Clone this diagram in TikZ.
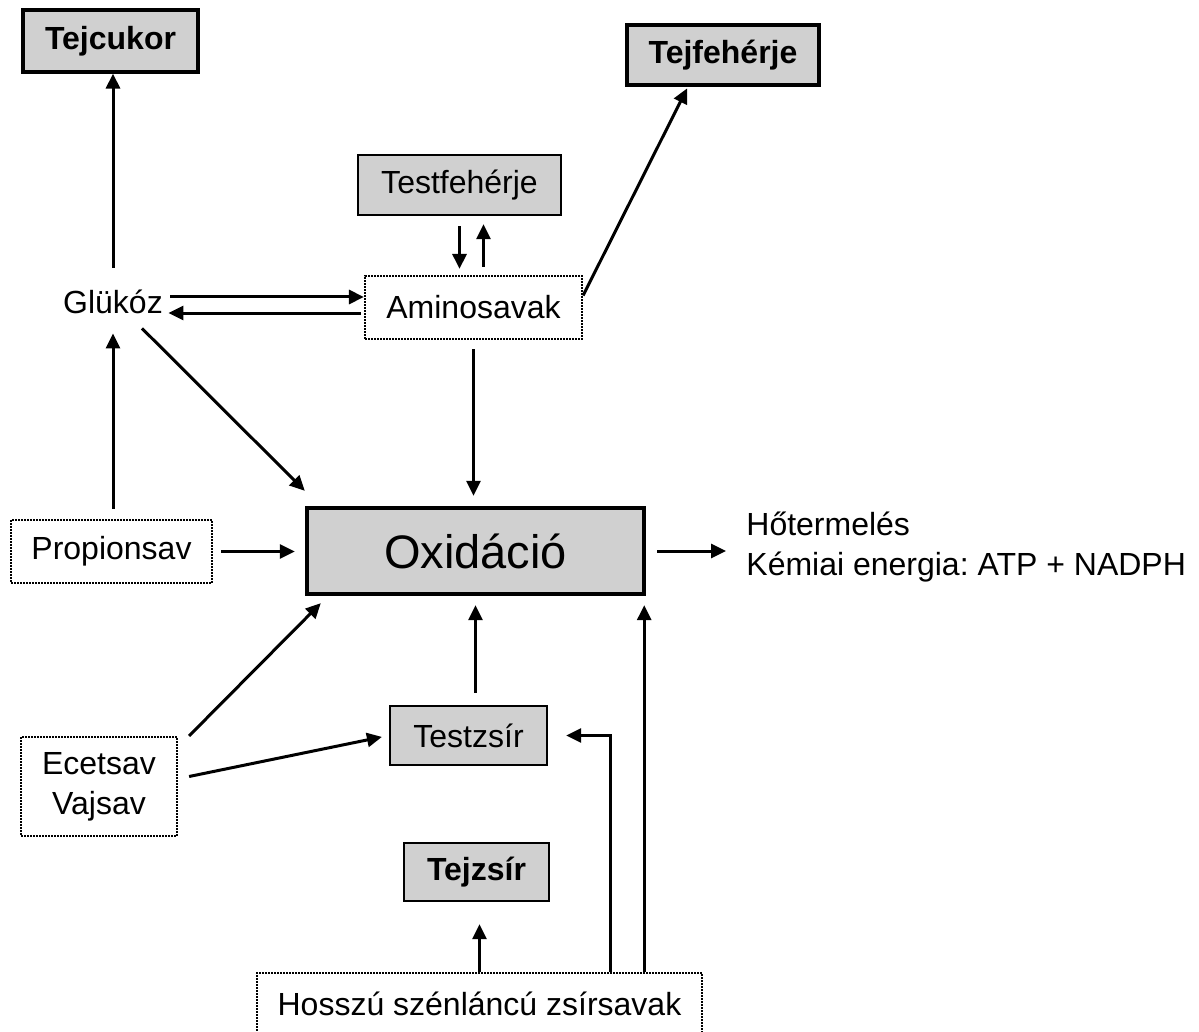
\documentclass[tikz,border=0pt]{standalone}
\usepackage{fontspec}
\setmainfont{Liberation Sans}
\usetikzlibrary{arrows.meta, calc}
\definecolor{boxgray}{RGB}{208,208,208}
\frenchspacing

\begin{document}
\begin{tikzpicture}[
  x=0.5pt, y=-0.5pt,
  txt/.style={inner sep=0pt, font=\fontsize{16}{20}\selectfont, align=center},
  milkbox/.style={txt, draw, line width=1.6pt, fill=boxgray,
                  font=\fontsize{16}{20}\selectfont\bfseries},
  bodybox/.style={txt, draw, line width=1.2pt, fill=boxgray},
  dotbox/.style={txt, draw, line width=1.1pt, dash pattern=on 1pt off 0.5pt},
  arrow/.style={-{Triangle[length=7.5pt,width=7pt]}, line width=1.5pt}
]
  \fill[white] (0,0) rectangle (1199,1032);
  \useasboundingbox (0,0) rectangle (1199,1032);

  % milk products
  \node[milkbox, minimum width=87.5pt, minimum height=31pt] (tejcukor) at (110.5,41) {Tejcukor};
  \node[milkbox, minimum width=96pt, minimum height=30pt] (tejfeh) at (723,55) {Tejfehérje};
  \node[bodybox, font=\fontsize{16}{20}\selectfont\bfseries,
        minimum width=72.5pt, minimum height=29pt] (tejzsir) at (476.5,872) {Tejzsír};

  % body stores
  \node[bodybox, minimum width=101.5pt, minimum height=30pt] (testfeh) at (459.5,185) {Testfehérje};
  \node[bodybox, minimum width=78.5pt, minimum height=29.5pt] (testzsir) at (468.5,735.5) {Testzsír};

  % intermediates
  \node[txt, minimum width=55pt, minimum height=31pt] (glukoz) at (113,302) {Glükóz};
  \node[dotbox, minimum width=108.5pt, minimum height=31.5pt] (amino) at (473.5,307.5) {Aminosavak};
  \node[dotbox, minimum width=100.5pt, minimum height=31.5pt] (propionsav) at (111.5,551.5) {Propionsav};
  \node[dotbox, minimum width=78pt, minimum height=49.5pt] (ecetsav) at (99,786.5) {Ecetsav\\Vajsav};
  \node[dotbox, minimum width=222.5pt, minimum height=31pt] (hosszu) at (479.5,1004) {Hosszú szénláncú zsírsavak};

  % oxidation
  \node[txt, draw, line width=2.2pt, fill=boxgray, font=\fontsize{23.5}{28}\selectfont,
        minimum width=168.5pt, minimum height=43pt] (oxid) at (475.5,551) {Oxidáció};
  \node[txt, align=left, anchor=west] (hoterm) at (746,547) {Hőtermelés\\Kémiai energia: ATP + NADPH};

  % glucose
  \draw[arrow, shorten <=1.5pt] (glukoz.north) -- (glukoz.north |- tejcukor.south);
  \draw[arrow, shorten <=5pt] (glukoz.south |- propionsav.north) -- (glukoz.south);
  \coordinate (ga) at ([yshift=2.5pt]glukoz.east);
  \coordinate (ag) at ([yshift=-5.5pt]glukoz.east);
  \draw[arrow, shorten <=1pt] (ga) -- (ga -| amino.west);
  \draw[arrow, shorten <=1.5pt] (ag -| amino.west) -- (ag);
  \draw[arrow] ([xshift=14.5pt,yshift=2.5pt]glukoz.south) -- ([yshift=7.5pt]oxid.north west);

  % amino acids
  \draw[arrow, shorten <=5pt, shorten >=3pt] (testfeh.south) -- (testfeh.south |- amino.north);
  \coordinate (at) at ([xshift=5pt]amino.north);
  \draw[arrow, shorten <=4pt, shorten >=4pt] (at) -- (at |- testfeh.south);
  \draw[arrow, shorten >=1pt] ([yshift=6pt]amino.east) -- ([xshift=-17.5pt]tejfeh.south);
  \draw[arrow, shorten <=4.5pt, shorten >=5pt] (amino.south) -- (amino.south |- oxid.north);

  % volatile fatty acids
  \draw[arrow, shorten <=4pt, shorten >=5pt] (propionsav.east) -- (propionsav.east -| oxid.west);
  \draw[arrow] ([xshift=5.5pt]ecetsav.north east) -- ([xshift=8pt,yshift=-3.5pt]oxid.south west);
  \draw[arrow, shorten >=3.5pt] ([xshift=5.5pt,yshift=5pt]ecetsav.east) -- (testzsir.west);
  \draw[arrow, shorten <=6pt, shorten >=4.5pt] (oxid.south |- testzsir.north) -- (oxid.south);

  % long chain fatty acids
  \draw[arrow, shorten >=9pt] ([xshift=65.25pt]hosszu.north) |- (testzsir.east);
  \coordinate (ho) at ([xshift=-1pt]oxid.south east);
  \draw[arrow, shorten >=4.5pt] (ho |- hosszu.north) -- (ho);
  \draw[arrow, shorten >=11pt] (hosszu.north) -- (hosszu.north |- tejzsir.south);

  \draw[arrow, shorten <=5.5pt, shorten >=10pt] (oxid.east) -- (oxid.east -| hoterm.west);

\end{tikzpicture}
\end{document}
